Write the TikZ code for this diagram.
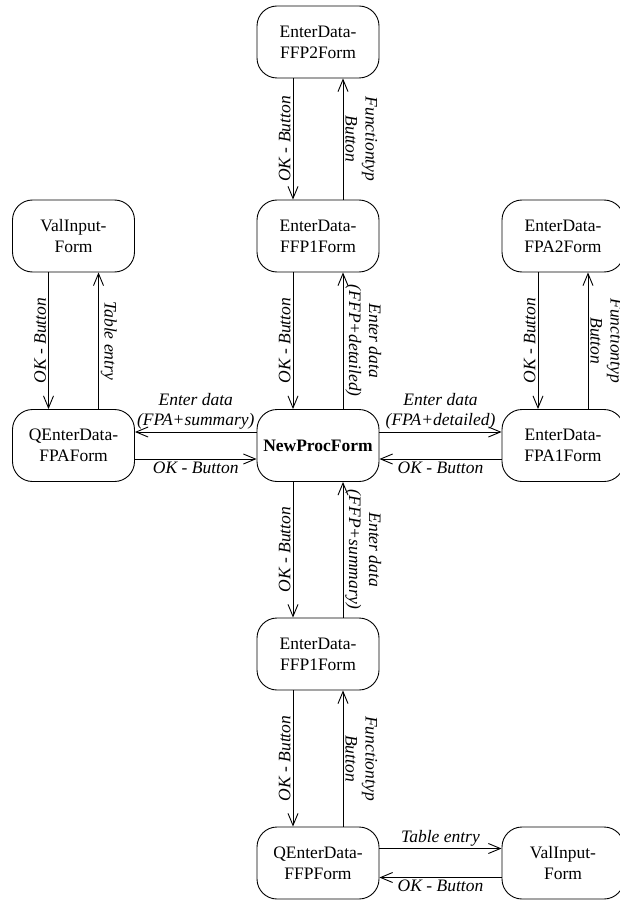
\documentclass[tikz,border=0pt]{standalone}
\usepackage{fontspec}
\setmainfont{Liberation Serif}
\usetikzlibrary{arrows.meta}

\begin{document}
\begin{tikzpicture}[x=1pt,y=-1pt,
  form/.style={draw, line width=0.9pt, rounded corners=20pt,
    minimum width=122pt, minimum height=72pt, inner sep=0pt,
    align=center, font=\fontsize{17.5}{21}\selectfont},
  flow/.style={draw, line width=0.9pt,
    -{Straight Barb[length=12pt,width=10pt,line width=0.9pt]}},
  lab/.style={font=\fontsize{17.5}{20}\selectfont\itshape,
    align=center, inner sep=2pt},
  vdown/.style={lab, midway, rotate=90, anchor=south},
  vup/.style={lab, midway, rotate=-90, anchor=south},
]
\useasboundingbox (0,0) rectangle (619,901);

% forms
\node[form] (ffp2)  at (318,42)    {EnterData-\\FFP2Form};
\node[form] (ffp1a) at (318,236)   {EnterData-\\FFP1Form};
\node[form] (np)    at (318,445.5) {\bfseries NewProcForm};
\node[form] (ffp1b) at (318,654)   {EnterData-\\FFP1Form};
\node[form] (qffp)  at (318,863)   {QEnterData-\\FFPForm};
\node[form] (vi1)   at (73.5,236)  {ValInput-\\Form};
\node[form] (qfpa)  at (73.5,445.5){QEnterData-\\FPAForm};
\node[form] (fpa2)  at (563,236)   {EnterData-\\FPA2Form};
\node[form] (fpa1)  at (563,445.5) {EnterData-\\FPA1Form};
\node[form] (vi2)   at (563,863)   {ValInput-\\Form};

% centre column
\draw[flow] ([xshift=-25pt]ffp2.south) -- ([xshift=-25pt]ffp1a.north)
  node[vdown] {OK - Button};
\draw[flow] ([xshift=25pt]ffp1a.north) -- ([xshift=25pt]ffp2.south)
  node[vup] {Functiontyp\\Button};
\draw[flow] ([xshift=-25pt]ffp1a.south) -- ([xshift=-25pt]np.north)
  node[vdown] {OK - Button};
\draw[flow] ([xshift=25pt]np.north) -- ([xshift=25pt]ffp1a.south)
  node[vup] {Enter data\\(FFP+detailed)};
\draw[flow] ([xshift=-25pt]np.south) -- ([xshift=-25pt]ffp1b.north)
  node[vdown] {OK - Button};
\draw[flow] ([xshift=25pt]ffp1b.north) -- ([xshift=25pt]np.south)
  node[vup] {Enter data\\(FFP+summary)};
\draw[flow] ([xshift=-25pt]ffp1b.south) -- ([xshift=-25pt]qffp.north)
  node[vdown] {OK - Button};
\draw[flow] ([xshift=25pt]qffp.north) -- ([xshift=25pt]ffp1b.south)
  node[vup] {Functiontyp\\Button};

% left column
\draw[flow] ([xshift=-25pt]vi1.south) -- ([xshift=-25pt]qfpa.north)
  node[vdown] {OK - Button};
\draw[flow] ([xshift=25pt]qfpa.north) -- ([xshift=25pt]vi1.south)
  node[vup] {Table entry};

% right column
\draw[flow] ([xshift=-25pt]fpa2.south) -- ([xshift=-25pt]fpa1.north)
  node[vdown] {OK - Button};
\draw[flow] ([xshift=25pt]fpa1.north) -- ([xshift=25pt]fpa2.south)
  node[vup] {Functiontyp\\Button};

% horizontal links
\draw[flow] ([yshift=13.5pt]np.west) -- ([yshift=13.5pt]qfpa.east)
  node[lab, midway, above] {Enter data\\(FPA+summary)};
\draw[flow] ([yshift=-13.5pt]qfpa.east) -- ([yshift=-13.5pt]np.west)
  node[lab, midway, below] {OK - Button};
\draw[flow] ([yshift=13.5pt]np.east) -- ([yshift=13.5pt]fpa1.west)
  node[lab, midway, above] {Enter data\\(FPA+detailed)};
\draw[flow] ([yshift=-13.5pt]fpa1.west) -- ([yshift=-13.5pt]np.east)
  node[lab, midway, below] {OK - Button};
\draw[flow] ([yshift=14.5pt]qffp.east) -- ([yshift=14.5pt]vi2.west)
  node[lab, midway, above] {Table entry};
\draw[flow] ([yshift=-14.5pt]vi2.west) -- ([yshift=-14.5pt]qffp.east)
  node[lab, midway, below] {OK - Button};
\end{tikzpicture}
\end{document}
